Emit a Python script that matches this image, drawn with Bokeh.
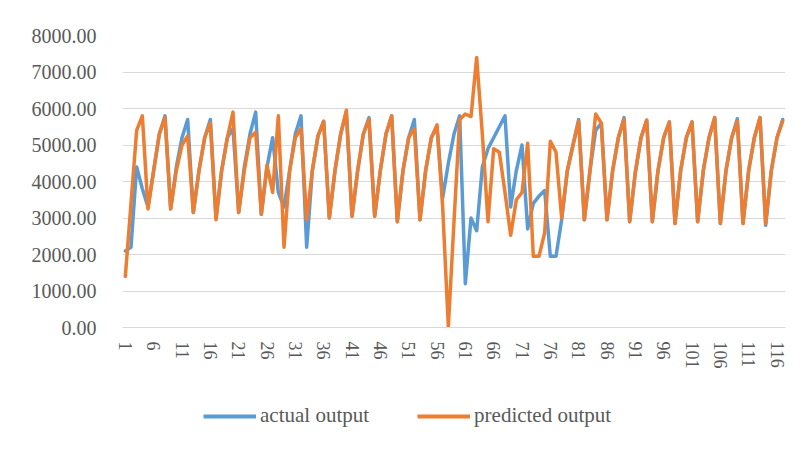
from bokeh.plotting import figure
from bokeh.layouts import column
from bokeh.models import (FixedTicker, NumeralTickFormatter, Legend, LegendItem,
                          Range1d)
from bokeh.embed import file_html
from bokeh.resources import INLINE

# Period index 1..117
periods = list(range(1, 118))

actual_output = [
    2100, 2200, 4400, 3800, 3300, 4300, 5300, 5800, 3250, 4400,
    5200, 5700, 3150, 4300, 5200, 5700, 3000, 4300, 5200, 5450,
    3150, 4400, 5300, 5900, 3100, 4400, 5200, 3700, 3300, 4300,
    5300, 5800, 2200, 4300, 5250, 5650, 3000, 4300, 5300, 5900,
    3050, 4300, 5300, 5750, 3050, 4300, 5300, 5800, 2900, 4300,
    5200, 5700, 2950, 4300, 5200, 5500, 3550, 4500, 5300, 5800,
    1200, 3000, 2650, 4400, 4900, 5200, 5500, 5800, 3300, 4300,
    5000, 2700, 3400, 3600, 3750, 1950, 1950, 2950, 4300, 5000,
    5700, 2950, 4300, 5400, 5600, 2950, 4300, 5200, 5750, 2900,
    4250, 5200, 5680, 2900, 4300, 5200, 5630, 2850, 4300, 5200,
    5630, 2900, 4300, 5200, 5750, 2850, 4300, 5200, 5720, 2850,
    4300, 5200, 5750, 2800, 4300, 5200, 5700,
]

predicted_output = [
    1400, 3400, 5400, 5800, 3250, 4300, 5300, 5750, 3250, 4300,
    5000, 5250, 3150, 4300, 5200, 5600, 2950, 4300, 5200, 5900,
    3150, 4300, 5200, 5350, 3100, 4450, 3700, 5800, 2200, 4300,
    5200, 5450, 2950, 4300, 5250, 5650, 3000, 4300, 5300, 5950,
    3050, 4300, 5300, 5700, 3050, 4300, 5300, 5800, 2900, 4300,
    5200, 5450, 2950, 4300, 5200, 5550, 3300, 30, 2900, 5700,
    5850, 5780, 7400, 5300, 2900, 4900, 4800, 3700, 2530, 3500,
    3700, 5050, 1950, 1950, 2600, 5100, 4800, 3000, 4300, 5000,
    5650, 2950, 4300, 5850, 5600, 2950, 4300, 5200, 5700, 2900,
    4250, 5200, 5680, 2900, 4300, 5200, 5630, 2850, 4300, 5200,
    5630, 2900, 4300, 5200, 5750, 2850, 4300, 5200, 5650, 2850,
    4300, 5200, 5750, 2850, 4300, 5200, 5650,
]

x_ticks = list(range(1, 118, 5))
y_ticks = list(range(0, 8001, 1000))

BLUE = "#5B9BD5"
ORANGE = "#ED7D31"
TEXT = "#595959"
FONT = "Liberation Serif"

# ---- main chart ----
p = figure(width=806, height=395, output_backend="svg", toolbar_location=None,
           x_range=Range1d(0.5, len(periods) + 0.5), y_range=Range1d(0, 8000),
           min_border_left=122, min_border_right=21, min_border_top=35,
           min_border_bottom=68)
p.outline_line_color = None
p.background_fill_color = "white"
p.border_fill_color = "white"

p.xgrid.grid_line_color = None
p.ygrid.ticker = FixedTicker(ticks=y_ticks)
p.ygrid.grid_line_color = "#d9d9d9"
p.ygrid.grid_line_width = 1

p.yaxis.ticker = FixedTicker(ticks=y_ticks)
p.yaxis.formatter = NumeralTickFormatter(format="0.00")
p.yaxis.axis_line_color = None
p.yaxis.major_tick_line_color = None
p.yaxis.minor_tick_line_color = None
p.yaxis.major_label_standoff = 20
p.yaxis.major_label_text_font = FONT
p.yaxis.major_label_text_font_size = "20px"
p.yaxis.major_label_text_color = TEXT

p.xaxis.ticker = FixedTicker(ticks=x_ticks)
p.xaxis.axis_line_color = "#d9d9d9"
p.xaxis.axis_line_width = 1
p.xaxis.major_tick_line_color = None
p.xaxis.minor_tick_line_color = None
p.xaxis.major_label_orientation = "vertical"
p.xaxis.major_label_standoff = 8
p.xaxis.major_label_text_font = FONT
p.xaxis.major_label_text_font_size = "18px"
p.xaxis.major_label_text_color = TEXT

p.line(periods, actual_output, line_color=BLUE, line_width=3.5,
       line_join="round", line_cap="round")
p.line(periods, predicted_output, line_color=ORANGE, line_width=3.5,
       line_join="round", line_cap="round")

# ---- legend strip under the chart ----
# The key renderers carry the same series; the strip's y range lies below
# every value, so only their legend swatches are visible here.
leg = figure(width=806, height=54, output_backend="svg", toolbar_location=None,
             x_range=Range1d(0.5, len(periods) + 0.5), y_range=Range1d(-54, -1),
             min_border=0)
leg.axis.visible = False
leg.grid.visible = False
leg.outline_line_color = None
leg.border_fill_color = "white"
leg.background_fill_color = "white"

key_actual = leg.line(periods, actual_output, line_color=BLUE, line_width=4)
key_pred = leg.line(periods, predicted_output, line_color=ORANGE, line_width=4)

legend = Legend(items=[LegendItem(label="actual output", renderers=[key_actual]),
                       LegendItem(label="predicted output", renderers=[key_pred])],
                orientation="horizontal", location=(81, 21),
                glyph_width=53, glyph_height=20, label_standoff=4, spacing=48,
                padding=0, margin=0, border_line_color=None,
                background_fill_alpha=0,
                label_text_font=FONT, label_text_font_size="21px",
                label_text_color=TEXT)
leg.add_layout(legend, "center")

layout = column(p, leg, spacing=0)
open("out.html", "w").write(file_html(layout, INLINE))
